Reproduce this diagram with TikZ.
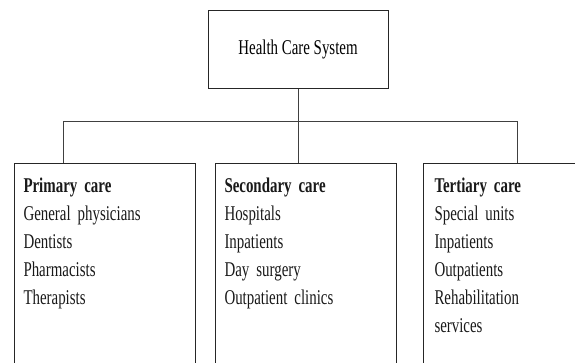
\documentclass[tikz,border=0pt]{standalone}
\usepackage{fontspec}
\setmainfont[FakeStretch=0.71]{Liberation Serif}
\usepackage{tikz}
\usetikzlibrary{positioning}
\tikzstyle{topbox}=[rectangle,draw=black!85,fill=white,inner sep=0mm,minimum width=180pt,minimum height=78pt]
\tikzstyle{carebox}=[rectangle,draw=black!85,anchor=north west,inner sep=0mm,minimum width=181pt,minimum height=230pt]
\tikzstyle{caretext}=[anchor=base west,inner sep=0mm,text width=170pt,align=left,text=black!90]
\tikzstyle{link}=[draw=black!75]
\tikzset{every picture/.style={
    line width=1
  }
}
\newcommand\carefont{\fontsize{21}{28}\selectfont}

\begin{document}
\begin{tikzpicture}[x=1pt,y=-1pt,font=\carefont]
    \useasboundingbox (0,0) rectangle (575,362);
    \clip (0,0) rectangle (575,362);
    \node[topbox] at (298,49) (hcs) {Health Care System};
    \node[carebox] at (14,163) (primary) {};
    \node[carebox] at (215,163) (secondary) {};
    \node[carebox] at (423,163) (tertiary) {};
    \node[caretext] at (23,192) (primarytext) {\textbf{Primary care}\\General physicians\\Dentists\\Pharmacists\\Therapists};
    \node[caretext] at (224,192) (secondarytext) {\textbf{Secondary care}\\Hospitals\\Inpatients\\Day surgery\\Outpatient clinics};
    \node[caretext] at (434,192) (tertiarytext) {\textbf{Tertiary care}\\Special units\\Inpatients\\Outpatients\\Rehabilitation\\services};
    \coordinate (joinleft) at (63,121);
    \coordinate (joinright) at (517,121);
    \draw[link] (hcs.south) -- (secondary.north -| hcs.south);
    \draw[link] (primary.north -| joinleft) -- (joinleft) -- (joinright) -- (tertiary.north -| joinright);
  \end{tikzpicture}
\end{document}
